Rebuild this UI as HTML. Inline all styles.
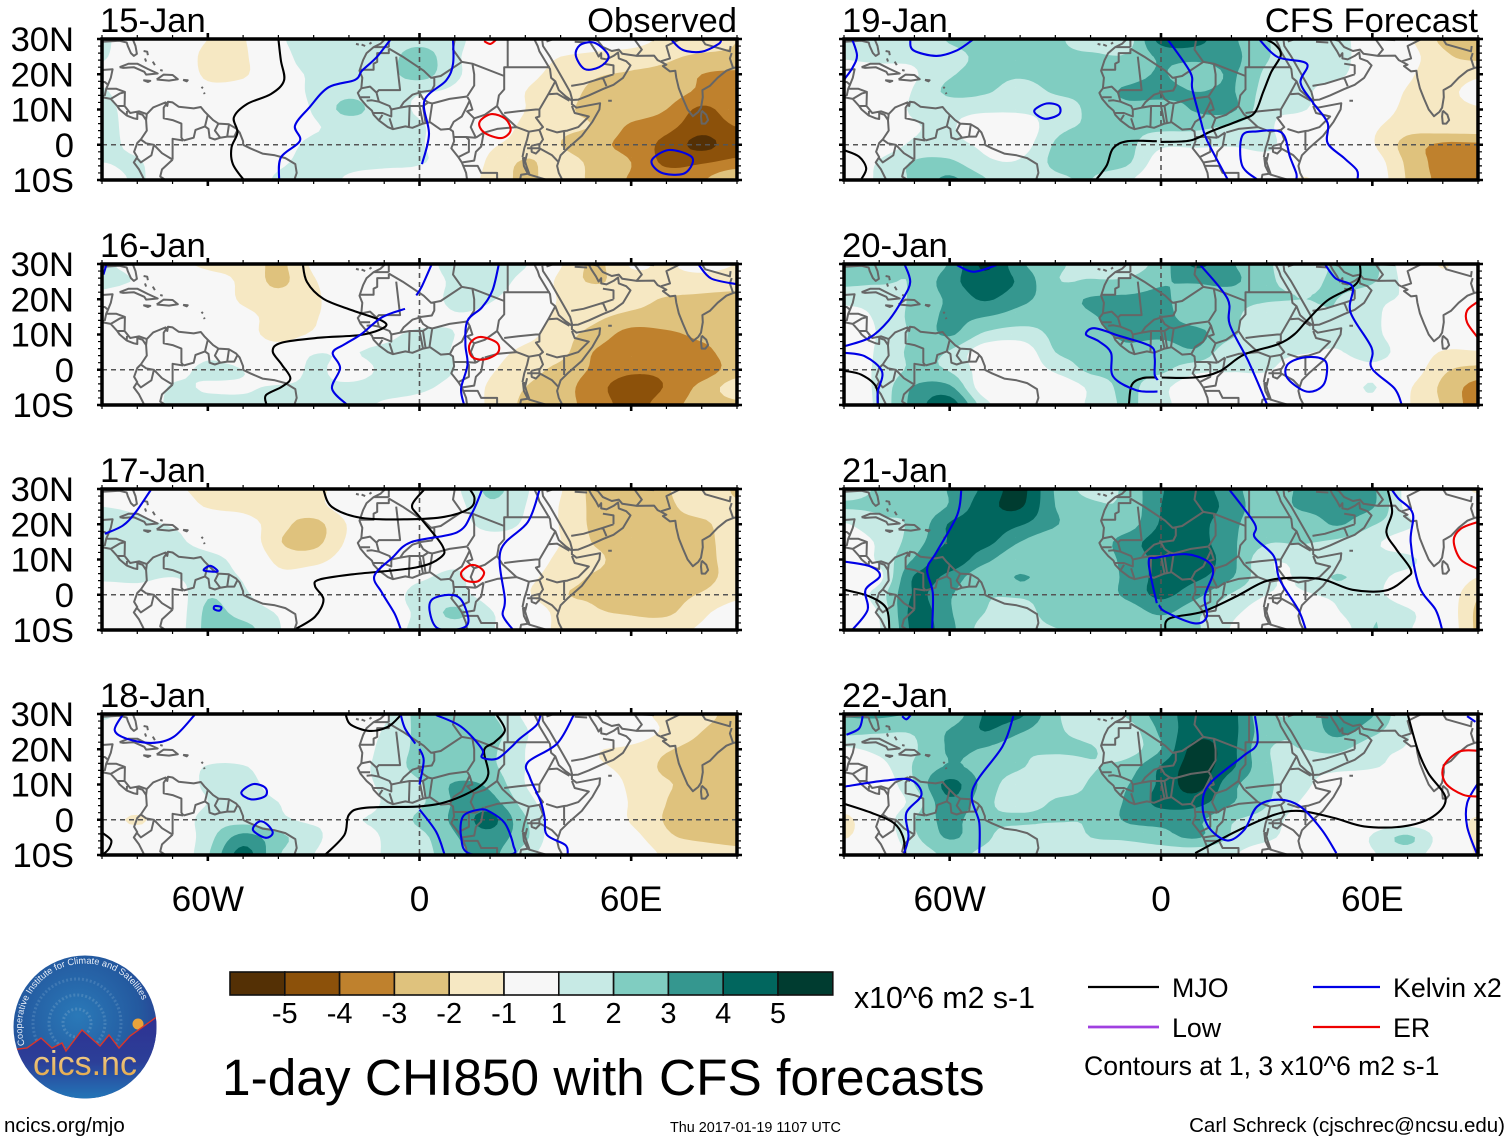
<!DOCTYPE html>
<html lang="en">
<head>
<meta charset="utf-8">
<title>1-day CHI850 with CFS forecasts</title>
<style>
html,body{margin:0;padding:0;background:#fff;}
svg{display:block;font-family:"Liberation Sans",Arial,sans-serif;}
text{fill:#000;}
</style>
</head>
<body>
<svg id="chart" xmlns="http://www.w3.org/2000/svg" width="1510" height="1142" viewBox="0 0 1510 1142">
  <defs>
    <radialGradient id="logo-sky" cx="0.45" cy="0.42" r="0.62">
      <stop offset="0" stop-color="#2a79b8"/>
      <stop offset="0.7" stop-color="#24599f"/>
      <stop offset="1" stop-color="#2a3f93"/>
    </radialGradient>
    <linearGradient id="logo-ground" x1="0" y1="0" x2="0" y2="1">
      <stop offset="0" stop-color="#2e3192"/>
      <stop offset="0.55" stop-color="#2c3f98"/>
      <stop offset="1" stop-color="#2277b8"/>
    </linearGradient>
    <linearGradient id="logo-gold" x1="0" y1="0" x2="0" y2="1">
      <stop offset="0" stop-color="#f3d9a0"/>
      <stop offset="1" stop-color="#e2a13c"/>
    </linearGradient>
    <clipPath id="logo-clip"><circle cx="85" cy="1027" r="71.5"/></clipPath>
    <path id="logo-arc" d="M 24.8 1045 A 63 63 0 1 1 148 1025" fill="none"/>
  </defs>
  <rect x="0" y="0" width="1510" height="1142" fill="#ffffff"/>
  <g id="panels"></g>
  <g id="colorbar"></g>
  <text x="854" y="1008" font-size="30.3">x10^6 m2 s-1</text>

  <g>
    <circle cx="85" cy="1027" r="71.5" fill="url(#logo-sky)"/>
    <g clip-path="url(#logo-clip)">
      <circle cx="77" cy="1023" r="14" fill="none" stroke="#6f9fc8" stroke-width="3" stroke-dasharray="2 2" opacity="0.45"/>
      <circle cx="77" cy="1023" r="28" fill="none" stroke="#6f9fc8" stroke-width="3" stroke-dasharray="2 2" opacity="0.4"/>
      <circle cx="77" cy="1023" r="44" fill="none" stroke="#6f9fc8" stroke-width="3" stroke-dasharray="2 2" opacity="0.35"/>
      <circle cx="138" cy="1024" r="5.5" fill="#e9a33a"/>
      <path d="M10 1050 L27 1048 L41 1038 L52 1048 L62 1043 L66 1051 L82 1030 L100 1046 L109 1035 L119 1048 L130 1036 L158 1016 L158 1100 L10 1100 Z" fill="url(#logo-ground)" stroke="#d9352a" stroke-width="1.4"/>
    </g>
    <text font-size="9.2" style="fill:#e8eef7"><textPath href="#logo-arc">Cooperative Institute for Climate and Satellites</textPath></text>
    <text x="85" y="1075" text-anchor="middle" font-size="34" style="fill:url(#logo-gold)">cics.nc</text>
  </g>

  <text x="222" y="1095" font-size="51.4">1-day CHI850 with CFS forecasts</text>

  <g>
    <line x1="1088" y1="987" x2="1159" y2="987" stroke="#000000" stroke-width="2.2"/>
    <text x="1172" y="997" font-size="26.8">MJO</text>
    <line x1="1088" y1="1027" x2="1159" y2="1027" stroke="#a040e0" stroke-width="2.8"/>
    <text x="1172" y="1037" font-size="26.8">Low</text>
    <line x1="1313" y1="987" x2="1380" y2="987" stroke="#0000e6" stroke-width="2.2"/>
    <text x="1393" y="997" font-size="26.8">Kelvin x2</text>
    <line x1="1313" y1="1027" x2="1380" y2="1027" stroke="#ee0000" stroke-width="2.2"/>
    <text x="1393" y="1037" font-size="26.8">ER</text>
    <text x="1084" y="1075" font-size="26.6">Contours at 1, 3 x10^6 m2 s-1</text>
  </g>

  <text x="4" y="1132" font-size="20.5">ncics.org/mjo</text>
  <text x="670" y="1132" font-size="14.4">Thu 2017-01-19 1107 UTC</text>
  <text x="1505" y="1132" text-anchor="end" font-size="20.5">Carl Schreck (cjschrec@ncsu.edu)</text>
</svg>

<script>
/* ---------- grid axes ---------- */
const lons = [-90,-80,-70,-60,-50,-40,-30,-20,-10,0,10,20,30,40,50,60,70,80,90];
const lats = [30,25,20,15,10,5,0,-5,-10];
const latTickLabels = ['30N','20N','10N','0','10S'];
const latTickValues = [30,20,10,0,-10];
const lonTickLabels = ['60W','0','60E'];
const lonTickValues = [-60,0,60];
const colorbarLabels = ['-5','-4','-3','-2','-1','1','2','3','4','5'];
const positiveColors = ['#c7eae5','#80cdc1','#35978f','#01665e','#003c30'];
const negativeColors = ['#f6e8c3','#dfc27d','#bf812d','#8c510a','#543005'];
const neutralColor = '#f7f7f7';
const contourLevels = [1,2,3,4,5];

/* ---------- CHI850 anomaly (x10^6 m2 s-1), rows = lats, cols = lons ---------- */
const chi15Jan = [
[1.2,.3,0,-1,-1.1,.8,1.3,1.3,1.4,1.6,1.3,.3,0,.2,-.2,-.5,-1.2,-1.3,-2],
[1.1,.3,0,-1.3,-1.2,.6,1.3,1.3,1.5,2.5,1.2,.3,-.2,-1,-1.3,-1.5,-1.8,-2.2,-2.2],
[.8,.2,0,-1.2,-1.2,.5,1.1,1.2,1.6,2.4,1.2,.3,-.6,-1.4,-1.9,-2.1,-2.3,-3,-3.2],
[1.1,.4,0,-.6,-.2,.3,1.2,1.7,1.4,1.1,.8,.2,-1,-1.6,-2.2,-2.4,-2.5,-3.2,-3.4],
[1.3,.5,0,0,0,.3,1.1,2.3,1.4,.9,.5,.2,-1,-1.8,-2.2,-2.4,-3,-4.2,-3.4],
[1.4,.5,0,0,0,.4,.9,1.3,1.3,1.1,.4,-.1,-1.3,-1.8,-2.1,-3.2,-3.7,-4.6,-4],
[1.3,.7,.2,0,0,.6,1.2,1.3,1.4,1.1,.2,-.8,-1.5,-2,-2.7,-3.4,-4.3,-5.3,-4.4],
[1,1.1,.2,0,0,.8,1.3,1.2,1.2,1.1,.3,-1.2,-2.1,-1.6,-2.3,-3,-4.2,-4.1,-3.7],
[.4,1.1,.3,0,0,1.2,1.3,.9,.6,.3,-.3,-1.3,-2.2,-1.5,-2.3,-3.1,-3.4,-3.1,-1.8]];
const chi16Jan = [
[1.1,.6,-.6,-1.2,-1.3,-2.2,-.8,0,0,.4,1.5,1.5,1.1,-.9,-2.2,-.9,-1.1,-.6,-1],
[1.2,.9,0,-.5,-1.2,-2.2,-1.1,-.2,0,.3,1.2,1.5,.5,-1.3,-2.1,-1.4,-1.3,-1.5,-1.6],
[.7,.2,0,0,-1.2,-1.6,-1.2,-.2,0,.2,1.3,1.1,.2,-1.1,-1.3,-1.6,-2.1,-2.2,-2.3],
[.3,0,0,0,-.6,-1.4,-1.1,-.2,.1,.3,.9,.6,-.2,-1.3,-1.8,-2.3,-2.4,-2.6,-2.6],
[0,0,0,0,-.4,-1.5,-.8,0,.6,1.3,1,.2,-.6,-1.6,-2.4,-3.4,-3.2,-2.8,-2.6],
[0,0,.1,.7,.2,-.2,.9,.9,1.3,1.4,.9,-.4,-1.3,-1.7,-3.1,-3.7,-3.7,-3.3,-2.5],
[0,0,.6,1.2,1,.2,1.2,.5,1.2,1.4,1,-.8,-1.6,-2.3,-3.2,-3.8,-3.8,-3.6,-2.5],
[.1,.1,1.1,.9,.9,1.1,1.1,1.2,1.3,1.2,.5,-1.2,-2,-2.6,-3.6,-4.6,-3.9,-2.7,-1.5],
[0,.3,1.2,1.3,1.2,1.2,1.1,1.2,.9,.6,.1,-1.2,-2.2,-2.7,-3.4,-4.4,-3.4,-2.6,-2.2]];
const chi17Jan = [
[.8,.5,-.7,-1.3,-1.3,-1.3,-1.3,-.4,0,.3,.8,2.2,1.2,-.9,-2.3,-2.4,-2.1,-1.1,-2.2],
[1,.8,0,-1.1,-1.3,-1.6,-1.3,-.5,0,.2,.6,1.8,1,-1.1,-2.2,-2.3,-2.2,-1.5,-1.8],
[1.3,1.2,.9,.3,-.4,-1.6,-2.3,-.9,.1,.1,.5,1.3,.8,-1.1,-2.2,-2.4,-2.3,-2.2,-1.4],
[1.4,1.2,1.2,.6,0,-1.9,-2.3,-.8,.1,.1,.3,.6,.3,-1,-2.1,-2.3,-2.5,-2.3,-1.5],
[1.3,1.2,1.3,1.3,.5,-1.3,-1.4,-.4,.1,.1,.7,.4,-.1,-1.3,-1.8,-2.5,-2.5,-2.3,-1.6],
[1.2,1.2,1,1.3,.9,-.6,-.3,.1,.2,.8,1.2,.2,-.6,-1.6,-2.1,-2.3,-2.5,-2.4,-1.5],
[.2,.5,.3,1.9,1.2,.2,0,0,.3,1.4,1.3,.5,-.8,-1.9,-2.1,-2.4,-2.4,-1.9,-1.2],
[0,.1,.2,2.2,1.6,.9,0,0,.5,1.2,2.2,1.1,.1,-1.4,-1.9,-2.1,-2.2,-1.2,-.6],
[0,0,.3,2.3,2.4,1.1,0,0,.6,1.2,1.5,1.1,.1,-1.3,-1.3,-1.5,-1.3,-.9,-.8]];
const chi18Jan = [
[1.3,.3,0,0,0,0,0,.1,.8,2.3,2.4,2.1,.8,0,0,-.6,-1.3,-1.7,-2.3],
[.4,.1,0,0,0,0,0,.1,1.1,2.2,2.3,2.4,1.1,.1,0,-.3,-1.2,-2,-2.4],
[0,0,0,0,0,0,0,.2,1.3,2.2,2.4,2.2,1,0,-.9,-1.2,-1.9,-2.3,-2.5],
[0,0,0,1.1,1.1,.1,0,.6,1.3,2.3,2.3,2.2,1,0,-.8,-1.3,-2.2,-2.4,-2.4],
[0,0,.2,1.2,1.4,.5,0,.5,1.2,1.9,3.1,2.8,1,0,-.2,-1.2,-1.9,-2.3,-2.3],
[0,0,.1,1,1.3,1,.1,.1,1.1,1.8,3.1,3.4,1.5,.1,0,-1.1,-2,-2.9,-2.5],
[-.3,-1.2,.1,1.4,1.6,1.2,.8,.9,1.3,2.2,3.2,4.3,2.1,.2,0,-1.1,-2.1,-2.7,-2.3],
[0,-.1,0,1.6,3.4,2.3,1.3,.3,1.1,1.7,2.9,3.6,2.2,.1,0,-.6,-1.8,-2.2,-2.3],
[0,0,0,1.9,4.4,2.1,1,0,1.1,1.6,2.6,3.3,1.5,.1,0,-.1,-1.2,-1.4,-1.7]];
const chi19Jan = [
[1.1,1.2,1.3,2.1,2.3,2.2,2.2,1.3,1.4,4.4,4.3,3.2,2.1,1.2,1.3,.3,-.8,-2.2,-2.3],
[1.1,1.3,1.2,1.7,2.2,2.2,2.2,2.2,2.1,3.2,3.4,3.3,2.1,1.3,1.3,.4,-.5,-1.8,-2.2],
[.3,.4,.9,1.9,2.2,2.1,2.3,2.3,2.4,3.1,2.2,3.1,1.8,1.2,1.2,.2,-.8,-1.6,-1.2],
[0,.1,1.1,2.2,2.1,1.6,2.1,2.3,3.2,3.4,3,3.1,1.6,1.2,.5,.1,-1.1,-1.3,-.6],
[0,0,1.2,1.3,1.2,1.2,1.4,2.2,2.6,2.4,3.1,3.2,1.3,1.1,.2,-.2,-1.3,-1.4,-1.1],
[0,0,.9,1.1,.3,.2,1.7,2.1,2.2,2.2,2.2,1.8,1.2,.2,0,-.8,-1.6,-1.4,-1.3],
[.1,.3,1.2,1.3,.8,.5,2.1,2.3,2.3,1.2,1.2,1.1,1.2,.3,0,-.9,-2.4,-3.2,-3.2],
[0,1.1,2.1,2.2,1.2,1.1,2.2,2.2,2.2,.4,.1,.2,.6,.1,0,-.4,-2.2,-3.4,-3.6],
[.1,1.2,2.2,3.2,2.1,1.2,1.8,2,1.2,.1,0,.1,.2,-1.2,-.1,-.2,-2.1,-3.3,-3.7]];
const chi20Jan = [
[2.2,2.2,2.1,3.1,5.2,3.2,2.2,1.7,1.3,2.5,4.2,3.1,2.2,1.2,2.2,2.3,.3,-1.1,0],
[2.2,2.1,2.1,3.6,4.6,3.8,2.1,2.1,2.2,2.9,3.1,3.2,2.2,1.7,2.2,2.1,.6,-.6,0],
[1.3,1.4,2.2,3.2,4.1,3.3,2.6,3.1,3.2,3.2,2.4,2.3,2.1,2,2,1.3,.8,0,0],
[.5,1.2,2.3,3.2,3,2.5,2.3,2.9,3.3,3.3,2.5,2.2,1.4,1.6,1.9,1.3,.1,0,0],
[.1,1.1,2.2,3.1,1.8,1.5,2.2,2.6,3.2,3.2,3.3,2.2,1.2,1.4,1.3,1.3,.1,0,0],
[0,1.2,2.2,1.9,.3,.2,2,2.2,2.7,2.4,2.8,1.2,1.2,1.1,.9,1.6,.2,-1.1,-1.1],
[.4,1.2,2.2,1.9,.5,.2,1.2,2.2,2.2,2.2,1.3,1.1,1.1,.2,0,.6,-.2,-1.8,-2.3],
[.2,1.3,3.1,3.2,.3,.2,.1,1.2,2.2,1.3,.2,.1,.1,0,0,1.1,-.8,-2.2,-3.4],
[0,1.3,3.4,4.6,1.4,.1,.1,1.2,2.1,1.4,0,-1.1,-.2,0,0,.6,-.9,-2.1,-3.5]];
const chi21Jan = [
[1.5,2.1,2.1,3.1,4.2,5.3,2.9,1.7,2.2,3.9,4.4,3.4,2.3,3.2,3.3,3.2,.6,-.2,-1.2],
[2.1,2.1,2.2,3.1,4.6,5.1,3,2.2,2.2,4,4.5,3.6,2.3,3.2,3.3,3.1,.7,0,-.3],
[.9,1.8,2.2,4.1,4.5,4.1,3.1,2.2,2.4,4.1,4.3,3.3,2.1,2.2,3.1,2.1,1.2,0,0],
[.1,1.2,2.5,4.1,4.3,3,2.2,2.2,3.5,4.4,4.4,3.2,2.1,2.1,1.8,1.2,.4,0,0],
[0,1.2,3.1,4.6,3.3,2.2,2.2,2.2,3.3,4.3,4.6,3.3,1.2,1.2,1.2,1.2,1.2,.3,0],
[0,.7,4.1,3.7,2.2,3.1,2.4,2.2,3.2,4.3,4.2,3.1,1.2,1.1,2.1,1.3,.7,.2,-1],
[.3,1.5,4.1,3.1,2.1,2.2,2.4,2.2,3.2,4.2,3.3,1.9,1,.9,1.2,1.3,.3,-.1,-1.9],
[0,1.1,4.4,3.1,2,1.3,2.8,2.2,2.3,3.2,2.2,1.3,.3,.1,.9,1.9,1.2,0,-2.2],
[0,.9,4.3,3.3,1.5,1.2,1.9,2.2,2.2,2.1,2.1,.9,-.8,0,.2,2,1.1,.1,-2.2]];
const chi22Jan = [
[3.1,3.2,2.9,2.3,4.1,4.2,2.2,1.3,2.1,3.5,4.4,4.3,2.2,2.2,3.6,3.1,1,0,-.2],
[2.3,2.1,2.1,3.1,4,3.1,2.2,1.6,1.4,3.2,4.6,4.3,2.4,2.1,3.3,2.3,1.1,0,0],
[.8,1.3,1.9,3.1,2.9,2.2,2.2,2.1,1.5,3,5.4,4.3,2.1,2,2.2,1.3,.9,0,0],
[0,.6,2.1,3.1,2.6,2.1,1.4,1.9,2.4,4.1,5.4,4.2,2.2,1.4,1.3,1.1,.5,0,0],
[0,.2,2,4.3,2.6,1.4,1.5,2.1,2.9,4.2,5.4,3.3,2.2,1.3,.3,0,0,0,0],
[-.3,.1,1.4,3.8,2.3,1.5,2.1,2.2,3.1,4.3,4.4,3.1,2.1,.9,0,0,0,0,0],
[-1.3,.2,2,3.3,2.2,2.2,2.1,2.1,3.1,3.3,3.2,2.1,1.6,.4,0,.3,.2,0,-1.2],
[-1.1,.1,1.8,3.1,2.2,1.3,1.3,2,2.2,2.6,3.1,1.9,1.3,.2,0,1.1,2.2,.4,-1.3],
[0,.1,1.2,2.2,1.7,1.2,1.1,1.2,1.2,1.3,1.2,1.1,0,.1,0,.9,1.4,.3,-1.1]];

/* ---------- wave contours as [lon,lat]; a repeated first point closes a loop ---------- */
const mjo15Jan = [[[-40,30],[-39.3,23.9],[-38.4,18.2],[-42.1,14.4],[-48.8,11.6],[-52.6,7.8],[-51.6,3.5],[-53.3,-.8],[-52.9,-5.5],[-49.8,-10]]];
const kelvin15Jan = [
[[-8.1,30],[-12.2,24.8],[-16.3,21],[-18.3,18.4],[-25.8,16.3],[-31.2,10.6],[-35.3,5.4],[-33.9,1.1],[-39.3,-3.6],[-39.8,-10]],
[[9.5,30],[9.5,22.9],[7.5,18.2],[1.4,12.5],[2.7,3],[.7,-5.5]],
[[48.8,29.1],[45.4,28.2],[44.3,25.3],[46.8,21.5],[50.9,22],[53.6,24.8],[51.6,27.7],[48.8,29.1]],
[[71.2,30],[74.6,26.9],[80,26.4],[84.8,28.6],[85.5,30]],
[[70.6,-1.5],[65.8,-4.5],[68.5,-7.9],[74.6,-8.3],[77.3,-5.5],[76.7,-3.1],[70.6,-1.5]]];
const er15Jan = [
[[20.4,8.7],[17,6.4],[18.3,3.5],[23.1,1.9],[25.8,4],[24.4,7.3],[20.4,8.7]],
[[18.3,29.4],[20.1,28.6],[21.7,29.8]]];

const mjo16Jan = [[[-33.1,30.2],[-31.9,24.9],[-27.2,20.1],[-18.9,16.8],[-10.6,13.9],[-10,12],[-16.5,9.9],[-28.4,9.1],[-39,7.7],[-41.6,5.3],[-39,1.4],[-36.6,-2.4],[-39,-4.8],[-43.5,-7.2],[-43.4,-9.8]]];
const kelvin16Jan = [
[[-88.7,30],[-89.6,27]],
[[3.5,30],[.6,23.5],[-.9,21.1]],
[[-4.1,17.3],[-10.6,14.9],[-16.5,10.1],[-21.3,7.2],[-24.6,4.8],[-22.5,.5],[-24.8,-5.3],[-20.7,-9.8]],
[[22.5,30],[20.7,22.5],[17.7,17.7],[13.6,13.9],[13,7.2],[13.6,1.4],[11.8,-5.3],[12.6,-9.8]],
[[79.2,29.7],[82.7,25.9],[89.8,24.3]]];
const er16Jan = [[[17.1,9.3],[14.2,7.2],[14.8,3.8],[18.3,2.9],[22.2,4.8],[21.9,7.7],[17.1,9.3]]];

const mjo17Jan = [
[[-27.2,29.7],[-24.8,24.9],[-16.5,21.8],[-3.5,21.4],[7.1,22.1],[14.2,24.5],[15.6,27.4],[14.2,30]],
[[1.2,29.7],[-2.1,25.4],[0,22.1],[6.5,13.9],[5.9,10.5],[-1.2,7.7],[-18.9,5.8],[-28.4,4.3],[-29.6,2.4],[-27.2,-1.4],[-29.6,-6.2],[-34.9,-9.6]]];
const kelvin17Jan = [
[[-76.2,29.7],[-80.4,23.5],[-84,19.7],[-89.2,17.3]],
[[17.7,29.7],[14.8,23],[10.6,17.7],[-2.4,14.9],[-7.7,10.5],[-12.8,5.3],[-10.6,.5],[-7.1,-5.3],[-5.3,-9.8]],
[[34,29.7],[30.7,20.6],[23,12.5],[24.2,-1.4],[23.6,-5.8],[26.4,-9.8]],
[[-61.2,7],[-59.3,8.2],[-57.2,6.7],[-59.3,6.6],[-61.2,7]],
[[-58,-3.2],[-56.2,-3.5],[-56.7,-4.5],[-58.2,-4.1],[-58,-3.2]],
[[8.3,0],[3.5,-1.4],[3,-5.3],[5.3,-9.6],[11.8,-9.6],[13.9,-7.2],[11.8,-1.4],[8.3,0]]];
const er17Jan = [[[14.2,8.3],[11.8,6.2],[13,4.1],[16.5,3.8],[18.3,6.2],[16.5,8.1],[14.2,8.3]]];

const mjo18Jan = [
[[-20.9,29.7],[-19.5,27],[-14.2,25.2],[-8.9,26.4],[-5.3,29.7]],
[[21.9,29.7],[24.2,25.4],[21.3,22],[18.3,19.7],[19.5,13],[16.5,9.1],[8.3,5.3],[0,3.8],[-15.4,3.4],[-20,1.4],[-21.3,-4.3],[-26.6,-9.8]],
[[-89.8,-3.8],[-87.4,-5.8],[-88,-8.1],[-89.6,-9.8]]];
const kelvin18Jan = [
[[-84.2,29.7],[-86.4,25.4],[-83,23],[-76,21.8],[-69.7,23.5],[-63.8,29.7]],
[[-5.3,29.7],[-4.1,25.9],[-1.2,21.6]],
[[0,20.1],[1.2,16.8],[0,10]],
[[0,2.9],[4.7,-3.4],[7.1,-9.8]],
[[4.7,29.7],[11.8,26.4],[17.7,20.1],[17.7,17.7],[21.9,17.3],[26,20.6],[28.4,23],[33.1,26.8],[34.3,29.7]],
[[43.7,29.7],[39,21.6],[30.7,16.3],[31.3,12],[34.3,5.3],[35.5,.5],[36.1,-4.3],[41.4,-7.2],[42,-9.8]],
[[17.1,2.9],[12.4,1],[11.8,-4.8],[14.2,-9.6],[26,-9.8],[26.6,-7.2],[24.2,-1],[20.1,2.2],[17.1,2.9]],
[[-47.2,10.1],[-50.5,7.7],[-47.8,5.8],[-43.7,6.7],[-43.7,9.1],[-47.2,10.1]],
[[-45.4,-.5],[-47.2,-2.9],[-43.7,-5.1],[-41.6,-3.8],[-43.1,-1.4],[-45.4,-.5]]];
const er18Jan = [];

const mjo19Jan = [
[[-89.8,-1.6],[-85.7,-3.4],[-83.7,-6.7],[-85.1,-9.8]],
[[-18.3,-9.8],[-15.4,-5.8],[-13.6,-1],[-9.5,1],[-1.2,1]],
[[0,.8],[8.3,1.2],[14.2,3.8],[22.5,7],[26.6,9.1],[29,14.9],[31.3,20.6],[34,25.4],[32.5,28.3],[29.6,30]]];
const kelvin19Jan = [
[[-87.7,30],[-86.3,25.4],[-87.5,22],[-89.8,18.7]],
[[-71.2,29.7],[-70.3,26.8],[-63.8,25.2],[-57.9,26.8],[-53.2,30]],
[[-32.5,11.7],[-36,9.6],[-33.1,7.4],[-29,8.6],[-29,11],[-32.5,11.7]],
[[1.8,30],[8.3,20.6],[8.9,15.8],[11.2,7.2],[13,1.4],[18.9,-9.8]],
[[27.8,30],[33.1,24.9],[41.4,23],[39.6,17.7],[43.1,12],[47.3,6.2],[47.3,.5],[52,-3.8],[55.6,-7.2],[55.8,-9.8]],
[[27.2,-9.8],[23,-5.8],[23,2.4],[27.2,3.8],[34.3,3.4],[36.6,-3.4],[38.4,-8.1],[38.4,-9.8]]];
const er19Jan = [];

const mjo20Jan = [
[[-89.8,-.3],[-85.1,-1.4],[-80.9,-4.8],[-80.4,-9.8]],
[[-9.1,-9.8],[-8.3,-4.3],[-5.3,-2.4],[-1.2,-2.2]],
[[.2,-2.2],[9.5,-2.2],[16.5,-.5],[23.6,4.3],[33.1,7.2],[37.8,10],[41.4,13.9],[47.3,19.7],[54.4,23.5],[56.5,26.4],[56.5,29.7]]];
const kelvin20Jan = [
[[-72.7,29.7],[-71.2,24.9],[-73.3,20.1],[-77.4,13.9],[-82.7,9.1],[-89.8,6.7]],
[[-89.8,4.8],[-84,3.8],[-79.2,-.5],[-80.4,-6.2],[-80.4,-9.8]],
[[-57.9,29.7],[-53.2,27.8],[-46.7,29.7]],
[[-1,-6.2],[-7,-5.8],[-13.6,-1.9],[-14.2,4.8],[-17.7,8.1],[-21.3,10],[-18.9,11.8],[-11.8,9.6],[-3,6.7],[-1.8,3.4],[-1.8,-1.4],[-.9,-2.9]],
[[11.2,29.7],[18.9,20.1],[19.5,12.9],[24.8,2.4],[30.1,-9.8]],
[[46.7,29.7],[49.6,25.9],[54.4,23.5],[53.8,16.3],[59.8,6.2],[59.8,.5],[66.3,-5.3],[68.3,-9.8]],
[[40,3.4],[35.9,1.4],[35.9,-2.4],[41.4,-6.2],[46.1,-4.3],[47.1,1.4],[44.9,3.4],[40,3.4]]];
const er20Jan = [[[89.8,19.2],[86.9,16.8],[86.9,13.4],[89.8,9.3]]];

const mjo21Jan = [
[[-89.8,1.4],[-82.7,-.5],[-78,-3.8],[-77.1,-9.8]],
[[1.2,-9.8],[2.4,-6.7],[11.8,-4.8],[21.3,-.5],[29.6,3.8],[37.8,4.8],[46.1,4.3],[54.4,1.4],[63.8,1.2],[69.7,4.8],[70.9,7.2],[66.8,12.9],[64,17.7],[65.6,23.5],[64.4,29.7]]];
const kelvin21Jan = [
[[-56.7,29.7],[-57.9,22.5],[-63.8,12],[-66.4,7.2],[-64.8,.5],[-65,-9.8]],
[[-89.8,9.4],[-82.7,8.1],[-79.8,5.3],[-83.9,1.4],[-83.3,-4.3],[-87.5,-9.8]],
[[19.5,29.7],[26.6,20.1],[26.6,16.3],[32,11],[33.7,4.3],[39,-4.3],[41.1,-9.8]],
[[-1.2,-2.4],[-3.5,9.1],[-1.2,10.5],[7.1,11.5],[13,9.6],[14.8,6.2],[12.4,-.5],[13,-6.2],[9.5,-8.1],[1.2,-4.8],[-.6,-2.9]],
[[65.6,29.7],[67.4,27.3],[71.5,23],[70.9,14.9],[73.3,2.4],[78,-4.3],[79.8,-9.8]]];
const er21Jan = [[[89.8,20.6],[85.1,18.7],[83.1,15.3],[85.1,10],[89.8,7.4]]];

const mjo22Jan = [
[[-89.9,4.5],[-82,1.9],[-75.9,-.9],[-73.3,-4.7],[-72.6,-9.5]],
[[9.7,-9.5],[21.3,-3.3],[32.2,1.4],[39.5,2.5],[49.2,.5],[57.7,-1.9],[68.7,-1.9],[77.2,.9],[80.8,6.1],[75.9,13.2],[72.9,19.8],[70.1,29.7]]];
const kelvin22Jan = [
[[-89.3,24.1],[-85.7,25.9],[-84.7,29.4]],
[[-73.5,29.4],[-72.3,28.5],[-71.1,29.7]],
[[-89.9,9.4],[-78.4,11.1],[-71.1,11.3],[-68,7.1],[-72.3,1.9],[-71.7,-4.7],[-72.9,-9.5]],
[[-41.9,29.4],[-45,20.8],[-53.5,8.5],[-51.6,-.9],[-51.6,-9.5]],
[[26.7,29.4],[27.3,21.7],[23.1,17.9],[14,10.4],[11.8,4.7],[13.4,-1.9],[18.8,-5.9],[23.7,-2.8],[27.3,3.8],[33.4,5.7],[39.5,3.8],[45.6,-2.8],[49.8,-9.5]],
[[86.9,29.4],[89.3,27.8]],
[[90,10.4],[86.9,4.7],[86.9,-1.9],[89.6,-9.5]]];
const er22Jan = [[[90,19.6],[84.6,19.3],[80.2,15.1],[80.8,10.4],[85.7,7.1],[90,6.6]]];

/* ---------- basemap, in [lon,lat] ---------- */
const coastlines = [
[[-90,29.2],[-85,29.5],[-83,29],[-82.7,28],[-81.8,26],[-81,25.2],[-80.1,25.8],[-80.5,28],[-81.3,30]],
[[-90,21.2],[-87,21.4],[-87.5,19],[-88.3,17],[-88.8,15.9],[-86,15.9],[-83.5,15],[-83.6,11],[-82,9],[-79.5,9.5],[-77.3,8.7],[-75.5,10.6],[-74.5,11],[-72,12],[-71.5,11],[-71.3,12.2],[-70,12],[-68.3,10.8],[-64,10.3],[-62,10.7],[-61,9.5],[-60,8.5],[-58.5,7],[-57,6],[-54,5.8],[-52,4.6],[-51,3.5],[-50,1],[-50,0],[-48,-1],[-44.5,-2.5],[-41,-3],[-38,-3.8],[-35.2,-5.5],[-34.8,-8],[-35.5,-10]],
[[-90,13.5],[-87.5,13],[-85.7,11],[-85,10],[-83,8.3],[-81,7.5],[-80,7.3],[-80,9],[-78.5,8.5],[-77.5,7],[-77.3,4],[-79,1.5],[-80,.5],[-80.9,-2],[-80,-3.5],[-81,-5],[-79.5,-7],[-78.5,-9],[-78,-10]],
[[-85,22],[-82.5,23],[-80,23],[-77,21.5],[-74.2,20.2],[-77.5,19.9],[-78,20.7],[-81,22],[-84,21.8],[-85,22]],
[[-74.5,18.5],[-72.5,19.9],[-70,19.8],[-68.5,18.6],[-71,18.2],[-74.5,18.5]],
[[-78.3,18.3],[-76.3,18.1],[-77,17.8],[-78.3,18.3]],
[[-67,18.4],[-65.7,18.3],[-66,18],[-67,18.4]],
[[-78.2,26.6],[-77.2,26.4],[-77,25.4]],[[-77.8,24.5],[-77.5,23.6]],[[-75.6,23.6],[-75,22.6]],[[-73.5,21.2],[-72.8,21]],
[[-61.8,16.4],[-61.4,16]],[[-61.1,14.8],[-60.9,14.4]],
[[-9.7,30],[-11,28.7],[-13,27.7],[-15,26],[-16,24],[-17,21],[-16.2,19],[-16.5,16],[-17.5,14.7],[-16.7,13],[-15,11],[-13.5,9.7],[-13,8.5],[-11.5,6.9],[-9,5],[-7.5,4.4],[-4,5.2],[-2,4.8],[1,6],[3,6.4],[6,4.3],[8.5,4.5],[9.5,3.8],[9.8,1],[9,-1],[11,-3.5],[12,-5],[13.2,-8],[13.5,-10]],
[[-18,28.6],[-17.2,28.4]],[[-16.4,28.4],[-15.4,28]],[[-14.2,28.6],[-13.6,29]],
[[32.5,30],[33.5,28],[34,26.5],[35.5,24],[37,21.5],[37.3,19],[38.5,18],[39.5,15.5],[41.5,13.7],[43.2,12.5],[43.2,11.5],[44.5,10.5],[48,11.2],[51.2,11.8],[51,10],[49,6.5],[46,2.5],[42,-1],[40,-3],[39,-6],[39.5,-8],[40.5,-10]],
[[34.8,29.5],[35,28],[37,25],[39,21.5],[41,18],[42.7,15],[43.3,12.7],[45,12.8],[48,14],[52,15.8],[55,17],[57.7,19],[59.8,22.5],[58.6,23.7],[56.5,24.5],[56.3,26.2],[55,25.2],[53,24.2],[51.5,24.5],[51.5,26],[50.8,25],[50,26.5],[48.7,28.5],[48,29.8],[48.5,30]],
[[48.7,30],[50.5,29.5],[52,27.7],[54.5,26.6],[56.5,27],[57.5,25.8],[61.6,25.2],[66.5,25.3],[67.5,24],[68.5,23.5],[70,22.7],[69,22.3],[71,20.8],[72.5,21],[72.8,19],[73.5,16],[74.7,13],[76,10],[77.5,8.1],[79,9.3],[79.8,10.5],[80.3,13.5],[80.2,15.5],[82.3,16.7],[84.5,19],[87,21],[89,21.8],[90,22]],
[[80,9.7],[81.3,8.5],[81.8,7],[81,6],[80,6],[79.8,8],[80,9.7]],
[[53.5,12.5],[54.5,12.5]],
[[31.7,-.3],[34,.2],[34,-1.5],[33,-2.5],[31.8,-2],[31.7,-.3]],
[[29.3,-3.5],[29.6,-6],[30.7,-8.2],[31.2,-8.5],[30.3,-6],[29.6,-3.5]]
];
const borders = [
[[-88.8,15.9],[-89.2,14],[-90,13.8]],[[-87.5,13],[-85,14.5],[-83.3,15]],[[-85.7,11],[-83.7,11]],[[-83,8.3],[-82.9,9.6]],[[-90,17.8],[-89.2,17.8],[-88.3,17]],
[[-77.3,8.7],[-77.5,7]],
[[-71.5,12],[-72.5,10.5],[-72.5,7.5],[-70,7],[-67.5,6],[-67.5,2],[-66.9,1.2]],
[[-79,1.5],[-77.5,.4],[-75.3,0],[-73,-2.4],[-70,-4.2]],
[[-80.3,-3.5],[-79,-5],[-76,-3],[-75.3,0]],
[[-70,-4.2],[-70,1.7],[-67,1.2]],
[[-66.9,1.2],[-64,2],[-63.5,4.2],[-60.8,5.2]],
[[-60.8,5.2],[-60,8.5]],
[[-60.8,5.2],[-59.8,4.5],[-59.5,2],[-58,1.5],[-56.5,2]],
[[-57,6],[-58,4],[-56.5,2]],
[[-54,5.8],[-54.5,2.3],[-56.5,2]],
[[-54.5,2.3],[-52.5,2.3],[-51.6,4.2]],
[[-70,-4.2],[-73,-7],[-73.5,-9],[-72,-10]],
[[-13,27.7],[-8.7,27.7]],[[-8.7,27.7],[-8.7,30]],
[[-8.7,27.3],[-4.8,25],[1.2,21],[3.3,19],[4.2,19.1],[4.2,16.8],[3.5,15.4],[.5,15],[-.5,15.2]],
[[-17,21.3],[-13,21.3],[-13,23],[-12,23.5],[-12,26],[-8.7,26],[-8.7,27.3]],
[[-6.6,25],[-5.5,15.5],[-9.5,15.5],[-11.5,15.5],[-12.2,14.8]],
[[-16.5,16],[-14,16.5],[-12.2,14.8],[-11.5,12.2]],
[[3.3,19],[6,19.5],[12,23.5]],[[12,23.5],[15,23],[24,19.5]],[[10,30],[9.5,27],[12,23.5]],
[[25,30],[25,22]],[[24,19.5],[24,22],[25,22]],[[25,22],[37,22]],
[[24,19.5],[24,15.7],[22.5,14],[22,11]],[[15,23],[15.5,20],[15.5,16.8],[13.5,13.7]],
[[13.5,13.7],[8.5,13],[3.6,11.7]],[[2.8,6.3],[3.6,11.7]],
[[8.7,4.6],[9.7,6.5],[12,8],[13.5,11],[14.2,12.5],[13.5,13.7]],
[[14.2,12.5],[15,10],[13.5,9.5],[15.5,7.5]],[[15.5,7.5],[18.5,8.5],[22,11]],
[[15.5,7.5],[14.5,5],[16,2]],[[22,11],[23.5,8.7],[27.5,5]],[[18.5,3.5],[22,4.5],[27.5,5]],
[[16,2],[18.2,3.5]],[[18.2,3.5],[17.5,-.5],[16,-2],[15.5,-4.5],[12.2,-5]],
[[9.8,2.2],[13.2,2.2],[14,1.4],[14,-2],[11,-3.5]],[[13.2,2.2],[16,2]],
[[12.3,-6],[16.5,-6],[17.5,-8],[22,-8],[22,-10]],
[[27.5,5],[31,3.7],[30.5,1.5],[29.7,-1],[29.2,-3.5]],[[30.7,-8.2],[28.8,-8.5],[28.5,-10]],
[[34,4.2],[35,1.5],[34,0]],[[31,3.7],[34,4.2]],[[34,-1],[37.6,-3],[39.2,-4.7]],[[30.5,-1],[34,-1]],[[30.5,-2.4],[30,-4.5]],
[[31.2,-8.5],[34.5,-9.5],[38,-10.5]],
[[36.5,14.3],[34,10],[34,8],[33,7.7],[35,5],[34,4.2]],
[[35.9,4.5],[39,3.5],[41,3.9],[42,4]],[[41.9,4],[45,5],[48,8],[44,9],[43.2,11]],[[41,3.9],[41,-1.5]],
[[36.5,14.3],[39,14.5],[42.5,12.5]],[[36.5,14.3],[38.5,18]],
[[24,9],[28,9.5],[33,10],[34,10]],
[[1,6],[0,11]],[[-3,5],[-2.8,11]],[[-5.5,10.5],[-2.8,11],[1,11],[2.5,12],[1,13],[0,14.8],[-2,14.2],[-4.5,12],[-5.5,10.5]],
[[1.7,6.3],[1,11]],[[2.5,12],[3.6,11.7]],
[[-15,12.5],[-13.5,12.6],[-11.5,12.2],[-8.5,11],[-8,10],[-8,8],[-10.5,9],[-13,9]],
[[-16.7,13.5],[-14,13.5]],[[-11.5,6.9],[-10.5,8.5]],[[-7.5,4.4],[-8.5,7.5]],[[-8,10],[-5.5,10.5]],
[[36,29.3],[38,30]],[[44,29.2],[47.5,29]],
[[43,16.7],[46.5,17.3],[52,19],[55,20]],[[55,20],[55,22.5],[52,23]],[[52,19],[53,16.6]],
[[61.5,25.2],[63,27],[61,29.8]],[[68.5,23.7],[71,24.5],[70,28],[74,30]],
[[80,30],[81,28.5],[88,26.5],[88.2,28]],[[88.5,26],[88,24.5],[88.8,22]],[[60.5,30],[66.5,29.7]]
];

/* ---------- layout & scales ---------- */
const NS = 'http://www.w3.org/2000/svg';
const panelsRoot = document.getElementById('panels');
const PANEL_H = 141;

function svgEl(tag, attrs, parent){
  const el = document.createElementNS(NS, tag);
  for (const k in attrs) el.setAttribute(k, attrs[k]);
  if (parent) parent.appendChild(el);
  return el;
}
function makeScales(x0, y0, w){
  return {
    x: lon => x0 + (lon + 90) * (w / 180),
    y: lat => y0 + (30 - lat) * (PANEL_H / 40)
  };
}

/* Catmull-Rom interpolation of the value grid */
function cr(p0,p1,p2,p3,t){
  return 0.5*((2*p1)+(p2-p0)*t+(2*p0-5*p1+4*p2-p3)*t*t+(3*p1-p0-3*p2+p3)*t*t*t);
}
function fieldAt(grid, c, r){
  const nc = grid[0].length, nr = grid.length;
  const ci = Math.min(Math.floor(c), nc-2), ri = Math.min(Math.floor(r), nr-2);
  const tc = c-ci, tr = r-ri;
  const vals = [];
  for (let j=-1;j<=2;j++){
    const row = grid[Math.max(0,Math.min(nr-1,ri+j))];
    const g = i => row[Math.max(0,Math.min(nc-1,i))];
    vals.push(cr(g(ci-1),g(ci),g(ci+1),g(ci+2),tc));
  }
  return cr(vals[0],vals[1],vals[2],vals[3],tr);
}

const SUB_LON = 8, SUB_LAT = 4;
function fineField(grid){
  const out = [];
  const nr = (grid.length-1)*SUB_LAT, nc = (grid[0].length-1)*SUB_LON;
  for (let r=0;r<=nr;r++){
    const row = [];
    for (let c=0;c<=nc;c++) row.push(fieldAt(grid, c/SUB_LON, r/SUB_LAT));
    out.push(row);
  }
  return out;
}
/* Filled region where sign*value >= level, as a path traced through the axis scales */
function bandPath(fine, level, sign, sc){
  const dLon = (lons[1]-lons[0])/SUB_LON, dLat = (lats[0]-lats[1])/SUB_LAT;
  let d = '';
  for (let r=0;r<fine.length-1;r++){
    for (let c=0;c<fine[0].length-1;c++){
      const cell = [[c,r],[c+1,r],[c+1,r+1],[c,r+1]].map(p => ({
        lon: lons[0]+p[0]*dLon, lat: lats[0]-p[1]*dLat, v: sign*fine[p[1]][p[0]]
      }));
      const pts = [];
      for (let i=0;i<4;i++){
        const a = cell[i], b = cell[(i+1)%4];
        const ina = a.v>=level, inb = b.v>=level;
        if (ina) pts.push([a.lon,a.lat]);
        if (ina!==inb){
          const t = (level-a.v)/(b.v-a.v);
          pts.push([a.lon+(b.lon-a.lon)*t, a.lat+(b.lat-a.lat)*t]);
        }
      }
      if (pts.length>2){
        d += 'M'+pts.map(p => sc.x(p[0]).toFixed(1)+' '+sc.y(p[1]).toFixed(1)).join('L')+'Z';
      }
    }
  }
  return d;
}
function polyPath(lines, sc){
  return lines.map(l => 'M'+l.map(p => sc.x(p[0]).toFixed(1)+' '+sc.y(p[1]).toFixed(1)).join('L')).join('');
}
function smoothPath(pts, sc){
  const P = pts.map(p => [sc.x(p[0]), sc.y(p[1])]);
  const n = P.length;
  const closed = n>3 && pts[0][0]===pts[n-1][0] && pts[0][1]===pts[n-1][1];
  const get = i => closed ? P[((i%(n-1))+(n-1))%(n-1)] : P[Math.max(0,Math.min(n-1,i))];
  let d = 'M'+P[0][0].toFixed(1)+' '+P[0][1].toFixed(1);
  for (let i=0;i<n-1;i++){
    const p0=get(i-1),p1=get(i),p2=get(i+1),p3=get(i+2);
    d += 'C'+(p1[0]+(p2[0]-p0[0])/6).toFixed(1)+' '+(p1[1]+(p2[1]-p0[1])/6).toFixed(1)+' '+
             (p2[0]-(p3[0]-p1[0])/6).toFixed(1)+' '+(p2[1]-(p3[1]-p1[1])/6).toFixed(1)+' '+
             p2[0].toFixed(1)+' '+p2[1].toFixed(1);
  }
  return d;
}

function drawPanel(idKey, title, note, x0, y0, w, grid, mjo, kelvin, er, showLatLabels, showLonLabels){
  const sc = makeScales(x0, y0, w);
  const g = svgEl('g', {}, panelsRoot);
  
  

  const clipId = 'clip-' + idKey;
  const defs = svgEl('defs', {}, g);
  const cp = svgEl('clipPath', {id: clipId}, defs);
  svgEl('rect', {x:x0, y:y0, width:w, height:PANEL_H}, cp);

  const bg = svgEl('rect', {x:x0, y:y0, width:w, height:PANEL_H, fill:neutralColor}, g);
  
  

  const body = svgEl('g', {'clip-path':'url(#'+clipId+')'}, g);
  const fine = fineField(grid);
  contourLevels.forEach((lv, i) => {
    const pos = svgEl('path', {d:bandPath(fine, lv, 1, sc), fill:positiveColors[i]}, body);
    
    
    const neg = svgEl('path', {d:bandPath(fine, lv, -1, sc), fill:negativeColors[i]}, body);
    
    
  });

  const zero = svgEl('path', {d:'M'+sc.x(-90)+' '+sc.y(0)+'L'+sc.x(90)+' '+sc.y(0)+'M'+sc.x(0)+' '+sc.y(30)+'L'+sc.x(0)+' '+sc.y(-10), fill:'none', stroke:'#555555', 'stroke-width':1.6, 'stroke-dasharray':'5 4'}, body);
  
  

  const mapEl = svgEl('path', {d:polyPath(coastlines.concat(borders), sc), fill:'none', stroke:'#666666', 'stroke-width':2, 'stroke-linejoin':'round'}, body);
  
  

  const series = [['mjo', mjo, '#000000'], ['kelvin', kelvin, '#0000e6'], ['er', er, '#ee0000']];
  series.forEach(s => {
    s[1].forEach(line => {
      const c = svgEl('path', {d:smoothPath(line, sc), fill:'none', stroke:s[2], 'stroke-width':2.1, 'stroke-linejoin':'round'}, body);
      
      
    });
  });

  /* ticks */
  let minor = '', major = '';
  for (let lon=-90; lon<=90; lon+=10){
    const X = sc.x(lon);
    if (lonTickValues.includes(lon)){
      major += 'M'+X+' '+(y0-6)+'V'+y0+'M'+X+' '+(y0+PANEL_H)+'V'+(y0+PANEL_H+6);
    } else {
      minor += 'M'+X+' '+(y0-4)+'V'+y0+'M'+X+' '+(y0+PANEL_H)+'V'+(y0+PANEL_H+4);
    }
  }
  for (let lat=-10; lat<=30; lat+=2){
    const Y = sc.y(lat);
    if (latTickValues.includes(lat)){
      major += 'M'+(x0-5)+' '+Y+'H'+x0+'M'+(x0+w)+' '+Y+'H'+(x0+w+5);
    } else {
      minor += 'M'+(x0-4)+' '+Y+'H'+x0+'M'+(x0+w)+' '+Y+'H'+(x0+w+4);
    }
  }
  const minorEl = svgEl('path', {d:minor, stroke:'#000', 'stroke-width':1.2, fill:'none'}, g);
  
  

  const majorEl = svgEl('path', {d:major, stroke:'#000', 'stroke-width':2.6, fill:'none'}, g);
  
  

  const frame = svgEl('rect', {x:x0, y:y0, width:w, height:PANEL_H, fill:'none', stroke:'#000', 'stroke-width':3.5}, g);
  
  

  const t = svgEl('text', {x:x0-2, y:y0-7, 'font-size':34.6}, g);
  
  
  t.textContent = title;

  if (note){
    const nt = svgEl('text', {x:x0+w, y:y0-7, 'text-anchor':'end', 'font-size':34.6}, g);
    
    
    nt.textContent = note;
  }
  if (showLatLabels){
    latTickLabels.forEach((lab, i) => {
      const l = svgEl('text', {x:74, y:sc.y(latTickValues[i])+12, 'text-anchor':'end', 'font-size':34.6}, g);
      
      
      l.textContent = lab;
    });
  }
  if (showLonLabels){
    lonTickLabels.forEach((lab, i) => {
      const l = svgEl('text', {x:sc.x(lonTickValues[i]), y:y0+PANEL_H+56, 'text-anchor':'middle', 'font-size':35.2}, g);
      
      
      l.textContent = lab;
    });
  }
}

const LEFT_X = 102, LEFT_W = 635, RIGHT_X = 844, RIGHT_W = 634;
drawPanel('15-jan','15-Jan','Observed',LEFT_X,39,LEFT_W,chi15Jan,mjo15Jan,kelvin15Jan,er15Jan,true,false);
drawPanel('16-jan','16-Jan','',LEFT_X,264,LEFT_W,chi16Jan,mjo16Jan,kelvin16Jan,er16Jan,true,false);
drawPanel('17-jan','17-Jan','',LEFT_X,489,LEFT_W,chi17Jan,mjo17Jan,kelvin17Jan,er17Jan,true,false);
drawPanel('18-jan','18-Jan','',LEFT_X,714,LEFT_W,chi18Jan,mjo18Jan,kelvin18Jan,er18Jan,true,true);
drawPanel('19-jan','19-Jan','CFS Forecast',RIGHT_X,39,RIGHT_W,chi19Jan,mjo19Jan,kelvin19Jan,er19Jan,false,false);
drawPanel('20-jan','20-Jan','',RIGHT_X,264,RIGHT_W,chi20Jan,mjo20Jan,kelvin20Jan,er20Jan,false,false);
drawPanel('21-jan','21-Jan','',RIGHT_X,489,RIGHT_W,chi21Jan,mjo21Jan,kelvin21Jan,er21Jan,false,false);
drawPanel('22-jan','22-Jan','',RIGHT_X,714,RIGHT_W,chi22Jan,mjo22Jan,kelvin22Jan,er22Jan,false,true);

/* colorbar */
(function(){
  const root = document.getElementById('colorbar');
  const cbColors = negativeColors.slice().reverse().concat([neutralColor], positiveColors);
  const x0 = 230, cw = 54.8, y0 = 972, h = 23;
  cbColors.forEach((col, i) => {
    const r = svgEl('rect', {x:x0+i*cw, y:y0, width:cw, height:h, fill:col, stroke:'#111', 'stroke-width':1.6}, root);
    
    
  });
  colorbarLabels.forEach((lab, i) => {
    const t = svgEl('text', {x:x0+(i+1)*cw, y:1023, 'text-anchor':'middle', 'font-size':29}, root);
    
    
    t.textContent = lab;
  });
})();
</script>
</body>
</html>
